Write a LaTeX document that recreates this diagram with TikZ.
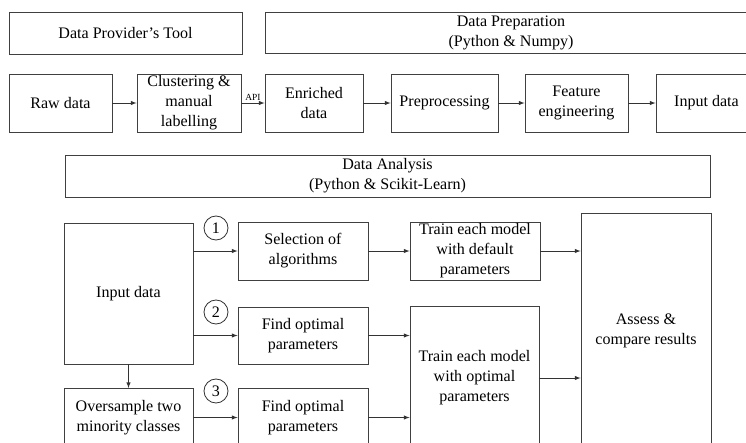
\documentclass[tikz,border=0pt]{standalone}
\usepackage{fontspec}
\setmainfont{Liberation Serif}
\usetikzlibrary{calc}

\tikzset{
    blk/.style={draw=black!75,line width=0.7pt,align=center,inner sep=1pt,
        font=\fontsize{13.7}{17}\selectfont},
    num/.style={draw=black!80,line width=0.7pt,circle,minimum size=0.72cm,inner sep=0pt,
        font=\fontsize{13.7}{17}\selectfont},
    flow/.style={draw=black!80,line width=0.7pt,->,>=latex}
}

\begin{document}
\begin{tikzpicture}[x=0.03cm,y=-0.03cm]
                    \useasboundingbox (0,0) rectangle (746,443);
                    \clip (0,0) rectangle (746,443);
                    % headers
                    \node[blk,minimum width=6.99cm,minimum height=1.26cm] (prov) at (125.5,33) {Data Provider's Tool};
                    \node[blk,minimum width=14.76cm,minimum height=1.23cm] (prep) at (511,32.5) {Data Preparation\\(Python \& Numpy)};
                    \node[blk,minimum width=19.35cm,minimum height=1.26cm] (ana) at (387.5,176) {Data Analysis\\(Python \& Scikit-Learn)};
                    % top row
                    \node[blk,minimum width=3.09cm,minimum height=1.74cm] (raw) at (60.5,103) {Raw data};
                    \node[blk,minimum width=3.12cm,minimum height=1.74cm] (clus) at (189,103) {Clustering \&\\manual\\labelling};
                    \node[blk,minimum width=2.94cm,minimum height=1.74cm] (enr) at (314,103) {Enriched\\data};
                    \node[blk,minimum width=3.21cm,minimum height=1.74cm] (pre) at (444.5,103) {Preprocessing};
                    \node[blk,minimum width=3.09cm,minimum height=1.74cm] (feat) at (576.5,103) {Feature\\engineering};
                    \node[blk,minimum width=3.03cm,minimum height=1.74cm] (inp) at (706.5,103) {Input data};
                    \draw[flow] (raw) -- (clus);
                    \draw[flow] (clus) -- node[above,inner sep=1.5pt,font=\fontsize{8}{9}\selectfont] {API} (enr);
                    \draw[flow] (enr) -- (pre);
                    \draw[flow] (pre) -- (feat);
                    \draw[flow] (feat) -- (inp);
                    % analysis
                    \node[blk,minimum width=3.87cm,minimum height=4.23cm] (in2) at (128.5,293.5) {Input data};
                    \node[blk,minimum width=3.87cm,minimum height=1.74cm] (over) at (128.5,417.5) {Oversample two\\minority classes};
                    \node[blk,minimum width=3.9cm,minimum height=1.74cm] (sel) at (303,251) {Selection of\\algorithms};
                    \node[blk,minimum width=3.9cm,minimum height=1.71cm] (fnd1) at (303,335.5) {Find optimal\\parameters};
                    \node[blk,minimum width=3.9cm,minimum height=1.74cm] (fnd2) at (303,417.5) {Find optimal\\parameters};
                    \node[blk,minimum width=3.9cm,minimum height=1.74cm] (trd) at (475,251) {Train each model\\with default\\parameters};
                    \node[blk,minimum width=3.87cm,minimum height=4.32cm] (tro) at (474.5,378) {Train each model\\with optimal\\parameters};
                    \node[blk,minimum width=3.9cm,minimum height=7.08cm] (ass) at (646,331) {Assess \&\\compare results};
                    \node[num] (n1) at (216,228) {1};
                    \node[num] (n2) at (216,312) {2};
                    \node[num] (n3) at (216,391) {3};
                    \draw[flow] (in2.east |- sel) -- (sel);
                    \draw[flow] (in2.east |- fnd1) -- (fnd1);
                    \draw[flow] (in2) -- (over);
                    \draw[flow] (over) -- (fnd2);
                    \draw[flow] (sel) -- (trd);
                    \draw[flow] (fnd1.east) -- (fnd1.east -| tro.west);
                    \draw[flow] (fnd2.east) -- (fnd2.east -| tro.west);
                    \draw[flow] (trd.east) -- (trd.east -| ass.west);
                    \draw[flow] (tro.east) -- (tro.east -| ass.west);
                \end{tikzpicture}
\end{document}
